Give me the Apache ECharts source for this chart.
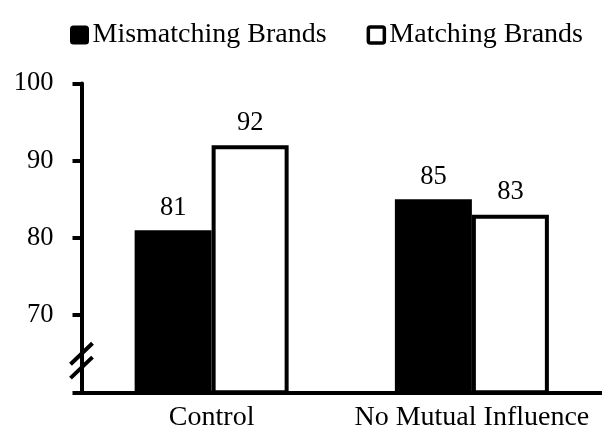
<!DOCTYPE html>
<html>
<head>
<meta charset="utf-8">
<script src="https://cdn.jsdelivr.net/npm/echarts@6/dist/echarts.min.js"></script>
<style>
  html, body { margin: 0; padding: 0; background: #fff; }
  #chart { width: 602px; height: 442px; }
</style>
</head>
<body>
<div id="chart"></div>
<script>
// Groups along the x axis
const categories = ['Control', 'No Mutual Influence'];
// Series names and values
const seriesNames = ['Mismatching Brands', 'Matching Brands'];
const mismatching = [81, 85];
const matching = [92, 83];
// Y axis range and ticks
const yMin = 60;
const yMax = 100;
const yStep = 10;
const hiddenTickLabels = [60];
// Positions (axis values) of the two slashes marking the axis break
const breakMarks = [65.0, 63.2];

const FONT = '"Liberation Serif", "Times New Roman", serif';
const LINE_W = 4;

const chart = echarts.init(document.getElementById('chart'), null, { renderer: 'canvas' });

const labelStyle = {
  show: true,
  position: 'top',
  distance: 9,
  color: '#000',
  fontFamily: FONT,
  fontSize: 26.5,
  formatter: p => String(p.value)
};

// Square legend key with slightly rounded corners
const keyIcon = 'path://M2,0H14Q16,0 16,2V14Q16,16 14,16H2Q0,16 0,14V2Q0,0 2,0Z';

chart.setOption({
  animation: false,
  backgroundColor: '#fff',
  legend: {
    left: 65,
    top: 16,
    itemWidth: 16,
    itemHeight: 16,
    itemGap: 40,
    icon: keyIcon,
    textStyle: { fontFamily: FONT, fontSize: 28, color: '#000' },
    data: [
      { name: seriesNames[0], itemStyle: { color: '#000', borderColor: '#000', borderWidth: 3 } },
      { name: seriesNames[1], itemStyle: { color: '#fff', borderColor: '#000', borderWidth: 3.5 } }
    ]
  },
  grid: { left: 81.5, top: 83.5, width: 522, height: 308.8, containLabel: false },
  xAxis: {
    type: 'category',
    data: categories,
    axisLine: { lineStyle: { color: '#000', width: LINE_W } },
    axisTick: { show: false },
    axisLabel: { interval: 0, color: '#000', fontFamily: FONT, fontSize: 28, margin: 11 }
  },
  yAxis: {
    type: 'value',
    min: yMin,
    max: yMax,
    interval: yStep,
    splitLine: { show: false },
    axisLine: { show: true, lineStyle: { color: '#000', width: LINE_W } },
    axisTick: { show: true, length: 9, lineStyle: { color: '#000', width: LINE_W } },
    axisLabel: {
      color: '#000', fontFamily: FONT, fontSize: 26.5, margin: 28,
      formatter: v => hiddenTickLabels.includes(v) ? '' : String(v)
    }
  },
  series: [
    {
      name: seriesNames[0],
      type: 'bar',
      data: mismatching,
      barWidth: 77,
      barGap: '0%',
      itemStyle: { color: '#000', borderColor: '#000', borderWidth: 0 },
      label: labelStyle
    },
    {
      name: seriesNames[1],
      type: 'bar',
      data: matching,
      barWidth: 77,
      barGap: '0%',
      itemStyle: { color: '#fff', borderColor: '#000', borderWidth: LINE_W },
      label: labelStyle
    }
  ]
});

// Axis-break slashes across the y axis, placed in axis coordinates
const axisX = chart.getModel().getComponent('grid', 0).coordinateSystem.getRect().x;
const slashes = breakMarks.map(v => {
  const y = chart.convertToPixel({ yAxisIndex: 0 }, v);
  return {
    type: 'line',
    shape: { x1: axisX - 11, y1: y + 10.5, x2: axisX + 11, y2: y - 10.5 },
    style: { stroke: '#000', lineWidth: LINE_W },
    z: 10
  };
});
chart.setOption({ graphic: slashes });
</script>
</body>
</html>
